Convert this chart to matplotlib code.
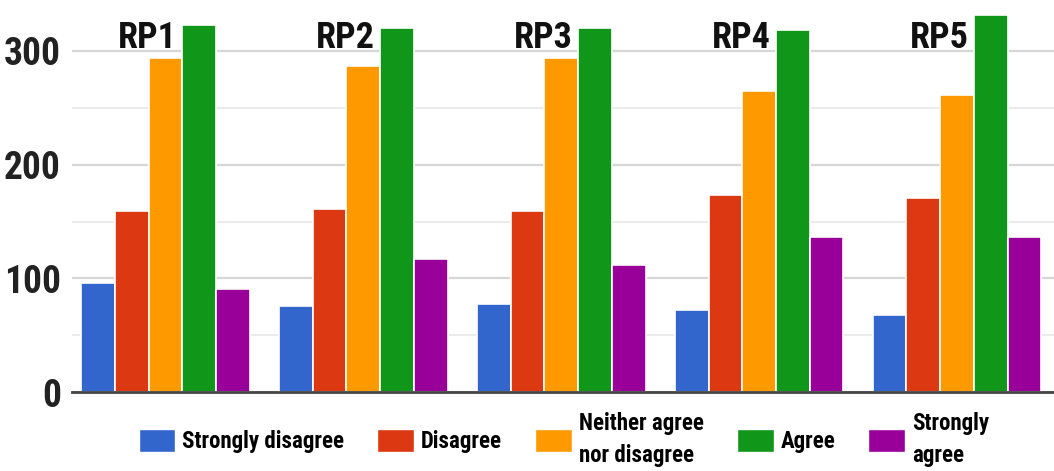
import matplotlib
matplotlib.use("Agg")
import matplotlib.pyplot as plt
import numpy as np
from matplotlib.patches import Patch

plt.rcParams["font.family"] = ["Roboto Condensed", "Open Sans Condensed", "Roboto", "DejaVu Sans"]
plt.rcParams["font.weight"] = "bold"

groups = ["RP1", "RP2", "RP3", "RP4", "RP5"]
responses = [
    "Strongly disagree",
    "Disagree",
    "Neither agree\nnor disagree",
    "Agree",
    "Strongly\nagree",
]
strongly_disagree = [96, 76, 78, 72, 68]
disagree = [159, 161, 159, 173, 171]
neither = [294, 287, 294, 265, 261]
agree = [323, 320, 320, 318, 331]
strongly_agree = [91, 117, 112, 136, 136]
counts = [strongly_disagree, disagree, neither, agree, strongly_agree]
colors = ["#3366cc", "#dc3912", "#ff9900", "#109618", "#990099"]
yticks = [0, 100, 200, 300]

fig = plt.figure(figsize=(10.54, 4.71), dpi=100)
ax = fig.add_axes([72 / 1054, 0.167, 982 / 1054, 0.822])

x = np.arange(len(groups))
step = 0.1705
for k, (vals, col) in enumerate(zip(counts, colors)):
    ax.bar(x + (k - 2) * step, vals, width=step, color=col,
           edgecolor="white", linewidth=1.2, zorder=3)

for i, name in enumerate(groups):
    ax.text(i - 0.09, 302, name, ha="center", va="baseline",
            fontsize=26, fontweight="bold", color="#111111", zorder=4)

ax.set_xlim(-0.472, 4.49)
ax.set_ylim(0, 340)
ax.set_yticks(yticks)
ax.set_yticks([50, 150, 250], minor=True)
ax.set_yticklabels([str(t) for t in yticks], fontsize=27, color="#222222")
ax.set_xticks([])
ax.tick_params(axis="y", which="both", length=0, pad=8)
ax.grid(axis="y", which="major", color="#d6d6d6", linewidth=1.6, zorder=0)
ax.grid(axis="y", which="minor", color="#ebebeb", linewidth=1.4, zorder=0)
for side in ["top", "right", "left"]:
    ax.spines[side].set_visible(False)
ax.spines["bottom"].set_color("#444444")
ax.spines["bottom"].set_linewidth(2)
ax.spines["bottom"].set_zorder(5)

handles = [Patch(facecolor=c, edgecolor="white") for c in colors]
leg = fig.legend(handles, responses, loc="lower center", ncol=5,
                 bbox_to_anchor=(0.535, -0.035), frameon=False,
                 prop={"size": 16.5, "weight": "bold"},
                 handlelength=1.6, handleheight=1.15, handletextpad=0.3,
                 columnspacing=1.45)
for t in leg.get_texts():
    t.set_linespacing(1.5)

fig.savefig("out.png", dpi=100)
